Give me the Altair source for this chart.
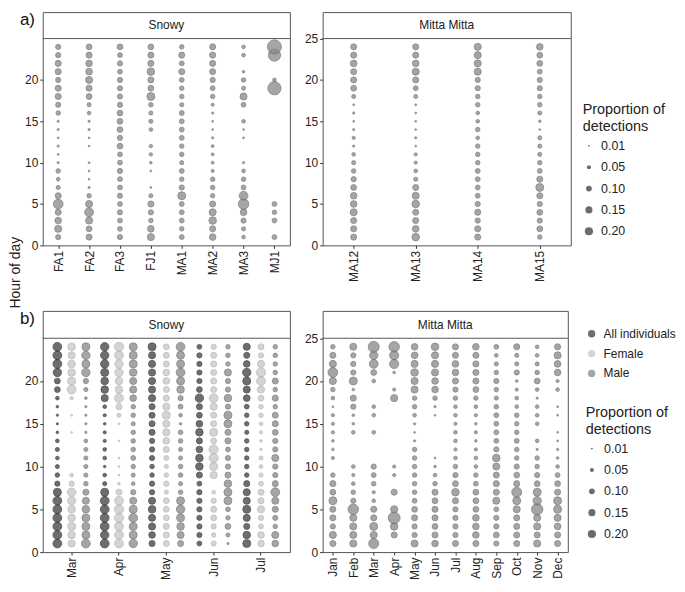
import altair as alt
import pandas as pd

FONT = "Liberation Sans"
hours = list(range(1, 25))

# ---------------- a) proportion of detections per hour (hours 1..24) ----------------
snowy_ids = ["FA1", "FA2", "FA3", "FJ1", "MA1", "MA2", "MA3", "MJ1"]
snowy_ind = {
    "FA1": [0.08, 0.15, 0.13, 0.11, 0.28, 0.11, 0.05, 0.04, 0.06, 0.015, 0.01, 0.015, 0.01, 0.015, 0.015, 0.06, 0.08, 0.11, 0.11, 0.08, 0.11, 0.11, 0.08, 0.08],
    "FA2": [0.11, 0.10, 0.15, 0.23, 0.15, 0.06, 0.015, 0.01, 0.01, 0.01, 0, 0.01, 0.01, 0.015, 0.015, 0.04, 0.05, 0.10, 0.11, 0.15, 0.13, 0.13, 0.11, 0.10],
    "FA3": [0.08, 0.07, 0.07, 0.08, 0.07, 0.08, 0.07, 0.07, 0.08, 0.07, 0.07, 0.10, 0.08, 0.10, 0.10, 0.10, 0.08, 0.08, 0.08, 0.08, 0.07, 0.08, 0.07, 0.10],
    "FJ1": [0.15, 0.13, 0.06, 0.08, 0.11, 0.05, 0.01, 0, 0.01, 0.02, 0.035, 0.035, 0, 0.04, 0.05, 0.05, 0.06, 0.19, 0.10, 0.11, 0.17, 0.11, 0.11, 0.10],
    "MA1": [0.07, 0.06, 0.07, 0.07, 0.07, 0.19, 0.08, 0.06, 0.07, 0.05, 0.06, 0.06, 0.07, 0.07, 0.07, 0.07, 0.05, 0.06, 0.06, 0.07, 0.11, 0.07, 0.11, 0.06],
    "MA2": [0.13, 0.11, 0.17, 0.15, 0.11, 0.06, 0.06, 0.06, 0.03, 0.025, 0.025, 0.025, 0.015, 0.01, 0.01, 0.015, 0.03, 0.06, 0.07, 0.08, 0.11, 0.11, 0.11, 0.11],
    "MA3": [0.04, 0.05, 0.08, 0.13, 0.33, 0.23, 0.07, 0.06, 0.04, 0.015, 0, 0, 0.01, 0.01, 0.04, 0, 0.07, 0.15, 0.05, 0.06, 0.02, 0, 0.04, 0.04],
    "MJ1": [0.07, 0, 0.07, 0.06, 0.07, 0, 0, 0, 0, 0, 0, 0, 0, 0, 0, 0, 0, 0, 0.52, 0.04, 0, 0, 0.45, 0.59],
}

mitta_ids = ["MA12", "MA13", "MA14", "MA15"]
mitta_ind = {
    "MA12": [0.11, 0.11, 0.11, 0.15, 0.13, 0.13, 0.10, 0.08, 0.06, 0.05, 0.04, 0.015, 0.03, 0.015, 0.01, 0.015, 0.01, 0.05, 0.10, 0.11, 0.11, 0.13, 0.11, 0.11],
    "MA13": [0.17, 0.13, 0.11, 0.11, 0.17, 0.15, 0.11, 0.05, 0.04, 0.03, 0.03, 0.01, 0.015, 0.01, 0.01, 0.01, 0.01, 0.05, 0.07, 0.11, 0.15, 0.13, 0.11, 0.11],
    "MA14": [0.11, 0.11, 0.08, 0.11, 0.08, 0.07, 0.07, 0.07, 0.07, 0.06, 0.06, 0.06, 0.04, 0.06, 0.04, 0.04, 0.06, 0.06, 0.08, 0.08, 0.15, 0.15, 0.15, 0.15],
    "MA15": [0.06, 0.10, 0.08, 0.10, 0.08, 0.11, 0.19, 0.11, 0.07, 0.06, 0.05, 0.05, 0.05, 0.01, 0.02, 0.05, 0.06, 0.06, 0.08, 0.08, 0.07, 0.10, 0.10, 0.13],
}

# ---------------- b) by month ----------------
groups = ["All individuals", "Female", "Male"]
snowy_months = ["Mar", "Apr", "May", "Jun", "Jul"]
snowy_all = {
    "Mar": [0.23, 0.23, 0.23, 0.23, 0.23, 0.23, 0.19, 0.08, 0.06, 0.05, 0.04, 0.05, 0.04, 0.02, 0.015, 0.015, 0.02, 0.04, 0.10, 0.10, 0.21, 0.23, 0.23, 0.23],
    "Apr": [0.23, 0.21, 0.23, 0.23, 0.23, 0.23, 0.19, 0.05, 0.04, 0.02, 0.04, 0.04, 0.03, 0.03, 0.02, 0.03, 0.04, 0.15, 0.17, 0.17, 0.19, 0.21, 0.21, 0.21],
    "May": [0.11, 0.13, 0.15, 0.15, 0.17, 0.15, 0.08, 0.08, 0.06, 0.06, 0.08, 0.08, 0.08, 0.11, 0.11, 0.11, 0.11, 0.15, 0.15, 0.15, 0.15, 0.15, 0.15, 0.19],
    "Jun": [0.07, 0.08, 0.08, 0.08, 0.08, 0.08, 0.08, 0.07, 0.11, 0.17, 0.17, 0.13, 0.11, 0.17, 0.13, 0.10, 0.11, 0.21, 0.10, 0.08, 0.08, 0.08, 0.08, 0.07],
    "Jul": [0.19, 0.17, 0.11, 0.15, 0.19, 0.15, 0.15, 0.11, 0.06, 0.06, 0.06, 0.06, 0.06, 0.05, 0.06, 0.06, 0.07, 0.13, 0.15, 0.19, 0.21, 0.13, 0.11, 0.15],
}
snowy_female = {
    "Mar": [0.15, 0.17, 0.19, 0.17, 0.17, 0.19, 0.21, 0.08, 0.04, 0, 0, 0, 0, 0.01, 0, 0.01, 0, 0.03, 0.23, 0.19, 0.17, 0.17, 0.15, 0.17],
    "Apr": [0.23, 0.23, 0.23, 0.25, 0.25, 0.23, 0.11, 0.02, 0.01, 0.01, 0.01, 0, 0.01, 0, 0.01, 0.05, 0.11, 0.23, 0.17, 0.17, 0.21, 0.21, 0.23, 0.25],
    "May": [0.11, 0.11, 0.11, 0.10, 0.10, 0.10, 0.05, 0.08, 0.06, 0.05, 0.07, 0.11, 0.13, 0.15, 0.15, 0.19, 0.15, 0.11, 0.11, 0.13, 0.13, 0.11, 0.11, 0.10],
    "Jun": [0.08, 0.06, 0.08, 0.10, 0.11, 0.08, 0.04, 0, 0.15, 0.19, 0.25, 0.25, 0.10, 0.19, 0.11, 0.11, 0.15, 0.23, 0.11, 0.11, 0.11, 0.11, 0.11, 0.08],
    "Jul": [0.13, 0.13, 0.07, 0.08, 0.15, 0.11, 0.11, 0.07, 0.05, 0.04, 0.05, 0.015, 0.02, 0.03, 0.04, 0.06, 0.06, 0.10, 0.15, 0.23, 0.25, 0.15, 0.08, 0.11],
}
snowy_male = {
    "Mar": [0.23, 0.19, 0.19, 0.19, 0.17, 0.15, 0.11, 0.06, 0.05, 0.05, 0.05, 0.05, 0.04, 0.015, 0.015, 0.015, 0.015, 0.02, 0.05, 0.08, 0.21, 0.19, 0.21, 0.19],
    "Apr": [0.21, 0.19, 0.19, 0.23, 0.19, 0.15, 0.08, 0.04, 0.05, 0.06, 0.07, 0.06, 0.06, 0.06, 0.05, 0.06, 0.06, 0.13, 0.15, 0.15, 0.17, 0.19, 0.19, 0.19],
    "May": [0.11, 0.15, 0.17, 0.19, 0.21, 0.19, 0.06, 0.05, 0.06, 0.06, 0.05, 0.05, 0.06, 0.06, 0.02, 0.04, 0.07, 0.08, 0.17, 0.19, 0.23, 0.19, 0.19, 0.23],
    "Jun": [0.015, 0.05, 0.10, 0.06, 0.07, 0.19, 0.19, 0.17, 0.11, 0.08, 0.08, 0.07, 0.11, 0.11, 0.19, 0.19, 0.08, 0.17, 0.08, 0.08, 0.15, 0.06, 0.06, 0.06],
    "Jul": [0.13, 0.15, 0.06, 0.08, 0.11, 0.15, 0.23, 0.11, 0.08, 0.08, 0.15, 0.08, 0.08, 0.10, 0.11, 0.11, 0.06, 0.11, 0.06, 0.11, 0.06, 0.06, 0.06, 0.06],
}

mitta_months = ["Jan", "Feb", "Mar", "Apr", "May", "Jun", "Jul", "Aug", "Sep", "Oct", "Nov", "Dec"]
mitta_male = {
    "Jan": [0.11, 0.15, 0.08, 0.11, 0.11, 0.19, 0.10, 0.11, 0.06, 0, 0.03, 0.02, 0.02, 0.03, 0.03, 0.03, 0.01, 0.04, 0.06, 0.15, 0.28, 0.15, 0.11, 0.06],
    "Feb": [0.15, 0.15, 0.15, 0.15, 0.33, 0.08, 0.06, 0.04, 0.03, 0.04, 0, 0, 0, 0.04, 0.02, 0.02, 0.08, 0.11, 0.02, 0.19, 0.08, 0.08, 0.08, 0.15],
    "Mar": [0.30, 0.15, 0.19, 0.11, 0.11, 0.04, 0.03, 0.06, 0.07, 0.08, 0, 0, 0, 0.04, 0, 0.04, 0.04, 0, 0, 0.04, 0.10, 0.23, 0.21, 0.36],
    "Apr": [0, 0.11, 0.17, 0.42, 0.15, 0, 0.11, 0, 0.03, 0.03, 0, 0, 0, 0, 0, 0, 0, 0.15, 0.03, 0, 0.02, 0.25, 0.25, 0.33],
    "May": [0.15, 0.08, 0.08, 0.11, 0.10, 0.07, 0.06, 0.06, 0.06, 0.06, 0.06, 0.06, 0.015, 0.01, 0.015, 0.04, 0.06, 0.06, 0.15, 0.15, 0.17, 0.15, 0.13, 0.13],
    "Jun": [0.13, 0.11, 0.10, 0.11, 0.11, 0.10, 0.11, 0.06, 0.04, 0.02, 0.01, 0, 0, 0, 0, 0.01, 0.015, 0.06, 0.13, 0.13, 0.15, 0.15, 0.15, 0.17],
    "Jul": [0.11, 0.08, 0.08, 0.08, 0.08, 0.11, 0.17, 0.10, 0.08, 0.06, 0.04, 0.03, 0.04, 0.04, 0.03, 0.04, 0.04, 0.06, 0.08, 0.11, 0.13, 0.13, 0.11, 0.11],
    "Aug": [0.11, 0.13, 0.13, 0.13, 0.10, 0.10, 0.10, 0.07, 0.06, 0.04, 0.04, 0.03, 0.02, 0.03, 0.02, 0.03, 0.04, 0.06, 0.10, 0.11, 0.11, 0.11, 0.11, 0.13],
    "Sep": [0.08, 0.10, 0.08, 0.08, 0.07, 0.15, 0.11, 0.11, 0.11, 0.15, 0.17, 0.08, 0.07, 0.07, 0.07, 0.07, 0.06, 0.05, 0.06, 0.08, 0.06, 0.05, 0.04, 0.07],
    "Oct": [0.11, 0.11, 0.11, 0.11, 0.15, 0.19, 0.30, 0.11, 0.10, 0.08, 0.06, 0.06, 0.07, 0.06, 0.06, 0.06, 0.04, 0.04, 0.03, 0.02, 0.08, 0.05, 0.05, 0.11],
    "Nov": [0.15, 0.11, 0.15, 0.15, 0.39, 0.21, 0.19, 0.10, 0.08, 0.06, 0.06, 0.015, 0.04, 0, 0.04, 0.04, 0.04, 0.015, 0.04, 0.10, 0.06, 0.05, 0.04, 0.04],
    "Dec": [0.11, 0.11, 0.13, 0.15, 0.19, 0.19, 0.11, 0.10, 0.07, 0.04, 0.02, 0.015, 0.01, 0.01, 0, 0.01, 0.01, 0, 0.04, 0.03, 0.13, 0.13, 0.15, 0.11],
}

size_ticks = [0.01, 0.05, 0.10, 0.15, 0.20]
group_colors = ["#3e3e3e", "#c6c6c6", "#888888"]
group_strokes = ["#1a1a1a", "#a6a6a6", "#5e5e5e"]


def to_long(table, key, group=None):
    rows = []
    for k, vals in table.items():
        for h, p in zip(hours, vals):
            if p > 0:
                rows.append({key: k, "hour": h, "p": p, "group": group})
    return rows


df_sa = pd.DataFrame(to_long(snowy_ind, "id", "Male"))
df_ma = pd.DataFrame(to_long(mitta_ind, "id", "Male"))
df_sb = pd.DataFrame(to_long(snowy_all, "month", "All individuals")
                     + to_long(snowy_female, "month", "Female")
                     + to_long(snowy_male, "month", "Male"))
df_mb = pd.DataFrame(to_long(mitta_male, "month", "Male"))

SIZE = alt.Scale(domain=[0, 0.6], range=[0, 204])
COLOR = alt.Scale(domain=groups, range=group_colors)
STROKE = alt.Scale(domain=groups, range=group_strokes)
YDOM = [0, 28.2]
one = pd.DataFrame({"a": [0]})


def size_legend(lx, ly):
    return alt.Legend(orient="none", legendX=lx, legendY=ly, values=size_ticks, format=".2f",
                      title=["Proportion of", "detections"], titleFontSize=14.5, titleFontWeight="normal",
                      titleLineHeight=17, titlePadding=5, titleColor="#222", titleFont=FONT,
                      labelFontSize=12.5, labelColor="#222", labelFont=FONT, labelOffset=6,
                      rowPadding=8.5, symbolFillColor="#6b6b6b", symbolStrokeWidth=0, symbolOpacity=1)


def panel(df, xfield, order, width, height, header, yvals, po, letter=None, ytitle=False,
          grouped=False, slegend=None, clegend=None, spacer=False):
    xaxis = alt.Axis(title=None, labelAngle=270, labelAlign="right", labelBaseline="middle",
                     labelFontSize=12, labelColor="#222", labelFont=FONT, labelPadding=2,
                     tickSize=3, tickColor="#333", domain=False, grid=False)
    yargs = dict(values=yvals, grid=False, domain=False, tickSize=3, tickColor="#333",
                 labelFontSize=12, labelColor="#222", labelFont=FONT, labelPadding=2)
    if ytitle:
        yargs.update(title="Hour of day", titleX=-27, titleY=262, titleAngle=270, titleAlign="center",
                     titleBaseline="middle", titleFontSize=14, titleFontWeight="normal",
                     titleColor="#222", titleFont=FONT)
    else:
        yargs.update(title=None)
    enc = dict(
        x=alt.X(f"{xfield}:N", sort=order,
                scale=alt.Scale(domain=order, paddingInner=0, paddingOuter=po), axis=xaxis),
        y=alt.Y("hour:Q", scale=alt.Scale(domain=YDOM, nice=False, zero=False), axis=alt.Axis(**yargs)),
        size=alt.Size("p:Q", scale=SIZE, legend=slegend),
        color=alt.Color("group:N", scale=COLOR, legend=clegend),
        stroke=alt.Stroke("group:N", scale=STROKE, legend=None),
    )
    if grouped:
        enc["xOffset"] = alt.XOffset("group:N", sort=groups,
                                     scale=alt.Scale(domain=groups, paddingInner=0, paddingOuter=0.66))
    pts = alt.Chart(df).mark_circle(opacity=0.75, strokeWidth=0.8).encode(**enc)
    rule = alt.Chart(one).mark_rule(color="#555", strokeWidth=1).encode(y=alt.datum(25))
    head = alt.Chart(one).mark_text(fontSize=12, font=FONT, color="#222", baseline="middle").encode(
        x=alt.value(width / 2), y=alt.datum(26.6), text=alt.value(header))
    layers = [pts, rule, head]
    if letter or spacer:
        layers.append(alt.Chart(one).mark_text(fontSize=17, font=FONT, color="#111", align="left",
                                               baseline="top", opacity=1 if letter else 0).encode(
            x=alt.value(-23 if letter else 20), y=alt.value(0), text=alt.value(letter or "a)")))
    return alt.layer(*layers).properties(width=width, height=height)


H_TOP, H_BOT, GAP = 235, 243, 66
pa_s = panel(df_sa, "id", snowy_ids, 249, H_TOP, "Snowy", [0, 5, 10, 15, 20], 0.06, letter="a)", ytitle=True)
pa_m = panel(df_ma, "id", mitta_ids, 250, H_TOP, "Mitta Mitta", [0, 5, 10, 15, 20, 25], 0.11,
             slegend=size_legend(262, 92), spacer=True)
pb_s = panel(df_sb, "month", snowy_months, 249, H_BOT, "Snowy", [0, 5, 10, 15, 20], 0.11, letter="b)",
             grouped=True)
pb_m = panel(df_mb, "month", mitta_months, 247, H_BOT, "Mitta Mitta", [0, 5, 10, 15, 20, 25], 0.1,
             slegend=size_legend(265, 96),
             clegend=alt.Legend(orient="none", legendX=265, legendY=17, title=None, labelFontSize=12,
                                labelColor="#222", labelFont=FONT, labelOffset=6, rowPadding=8,
                                symbolSize=55, symbolType="circle", symbolStrokeWidth=0))

RES = dict(size="independent", color="independent", stroke="independent", x="independent", y="independent")
left = alt.vconcat(pa_s, pb_s, spacing=GAP).properties(bounds="flush").resolve_scale(**RES)
right = alt.vconcat(pa_m, pb_m, spacing=GAP).properties(bounds="flush").resolve_scale(**RES)

chart = alt.hconcat(left, right, spacing=13).properties(padding=0).resolve_scale(
    size="independent", color="independent", stroke="independent").configure_view(stroke="#555", strokeWidth=1)

chart.save("out.html", embed_options={"renderer": "svg", "actions": False})
